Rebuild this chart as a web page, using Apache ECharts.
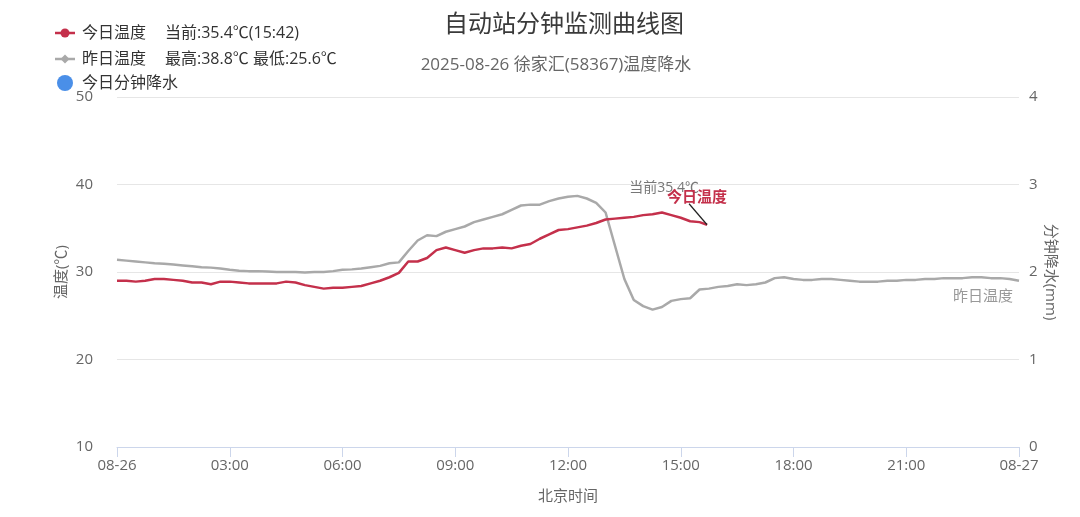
<!DOCTYPE html>
<html>
<head>
<meta charset="utf-8">
<script src="https://cdn.jsdelivr.net/npm/echarts@6/dist/echarts.min.js"></script>
<style>
html,body{margin:0;padding:0;background:#fff;}
#main{width:1080px;height:517px;}
</style>
</head>
<body>
<div id="main"></div>
<script>
// ---------- data ----------
const titleText = '自动站分钟监测曲线图';
const subtitleText = '2025-08-26 徐家汇(58367)温度降水';
const xTickLabels = ['08-26','03:00','06:00','09:00','12:00','15:00','18:00','21:00','08-27'];
const leftTicks = [10, 20, 30, 40, 50];
const rightTicks = [0, 1, 2, 3, 4];
const stepMinutes = 15; // sampling step of the value arrays below (minutes from 00:00)

// 昨日温度 (every 15 min, 00:00 .. 24:00)
const yesterdayTemps = [
  31.4,31.3,31.2,31.1,31.0,30.95,30.85,30.75,30.65,30.55,30.5,30.4,
  30.25,30.15,30.1,30.1,30.05,30.0,30.0,30.0,29.95,30.0,30.0,30.1,
  30.25,30.3,30.4,30.55,30.7,31.0,31.1,32.4,33.6,34.2,34.1,34.6,
  34.9,35.2,35.7,36.0,36.3,36.6,37.1,37.6,37.7,37.7,38.1,38.4,
  38.6,38.7,38.4,37.9,36.8,33.0,29.2,26.8,26.1,25.7,26.0,26.7,
  26.9,27.0,28.0,28.1,28.3,28.4,28.6,28.5,28.6,28.8,29.3,29.4,
  29.2,29.1,29.1,29.2,29.2,29.1,29.0,28.9,28.9,28.9,29.0,29.0,
  29.1,29.1,29.2,29.2,29.3,29.3,29.3,29.4,29.4,29.3,29.3,29.2,29.0
];
// 今日温度 (every 15 min, 00:00 .. 15:30) + current reading
const todayTemps = [
  29.0,29.0,28.9,29.0,29.2,29.2,29.1,29.0,28.8,28.8,28.6,28.9,
  28.9,28.8,28.7,28.7,28.7,28.7,28.9,28.8,28.5,28.3,28.1,28.2,
  28.2,28.3,28.4,28.7,29.0,29.4,29.9,31.2,31.2,31.6,32.5,32.8,
  32.5,32.2,32.5,32.7,32.7,32.8,32.7,33.0,33.2,33.8,34.3,34.8,
  34.9,35.1,35.3,35.6,36.0,36.1,36.2,36.3,36.5,36.6,36.8,36.5,
  36.2,35.8,35.7
];
const currentTime = '15:42';
const currentTemp = 35.4;
const yesterdayMax = 38.8;
const yesterdayMin = 25.6;
// 今日分钟降水 (no rain recorded)
const rainValues = [];

// ---------- chart ----------
const FONT = "'Open Sans','Noto Sans CJK SC',sans-serif";
const RED = '#c4304b';
const GRAY = '#a9a9a9';
const BLUE = '#4a8fe8';

function toMin(t){ const p = t.split(':'); return (+p[0])*60 + (+p[1]); }
const yesterdayData = yesterdayTemps.map((v,i)=>[i*stepMinutes, v]);
const todayData = todayTemps.map((v,i)=>[i*stepMinutes, v]).concat([[toMin(currentTime), currentTemp]]);
const rainData = rainValues.map((v,i)=>[i, v]);

const chart = echarts.init(document.getElementById('main'), null, {renderer:'canvas'});

const legendRows = [
  {y:33, name:'今日温度', extra:'当前:' + currentTemp + '℃(' + currentTime + ')', kind:'line', color:RED, symbol:'circle'},
  {y:59, name:'昨日温度', extra:'最高:' + yesterdayMax + '℃ 最低:' + yesterdayMin + '℃', kind:'line', color:GRAY, symbol:'diamond'},
  {y:83, name:'今日分钟降水', extra:'', kind:'dot', color:BLUE}
];
const legendGraphics = [];
legendRows.forEach(r => {
  if (r.kind === 'line') {
    legendGraphics.push({type:'line', shape:{x1:55,y1:r.y,x2:75,y2:r.y}, style:{stroke:r.color, lineWidth:2.5}, silent:true});
    if (r.symbol === 'circle') {
      legendGraphics.push({type:'circle', shape:{cx:65, cy:r.y, r:4.5}, style:{fill:r.color}, silent:true});
    } else {
      legendGraphics.push({type:'polygon', shape:{points:[[65,r.y-4.5],[69.5,r.y],[65,r.y+4.5],[60.5,r.y]]}, style:{fill:r.color}, silent:true});
    }
  } else {
    legendGraphics.push({type:'circle', shape:{cx:65, cy:r.y, r:8}, style:{fill:r.color}, silent:true});
  }
  legendGraphics.push({type:'text', x:82, y:r.y, style:{text:r.name, fill:'#333', font:'16px ' + FONT, verticalAlign:'middle'}, silent:true});
  if (r.extra) {
    legendGraphics.push({type:'text', x:165, y:r.y, style:{text:r.extra, fill:'#333', font:'16px ' + FONT, verticalAlign:'middle'}, silent:true});
  }
});

const option = {
  animation:false,
  backgroundColor:'#ffffff',
  textStyle:{fontFamily:FONT},
  grid:{left:117, right:61, top:97, bottom:70, containLabel:false},
  graphic:[
    {type:'text', x:564, y:25, style:{text:titleText, fill:'#3a3a3a', font:'24px ' + FONT, align:'center', verticalAlign:'middle'}, silent:true},
    {type:'text', x:556, y:65, style:{text:subtitleText, fill:'#666', font:'17px ' + FONT, align:'center', verticalAlign:'middle'}, silent:true}
  ].concat(legendGraphics),
  xAxis:{
    type:'value', min:0, max:1440, interval:180,
    name:'北京时间', nameLocation:'middle', nameGap:42,
    nameTextStyle:{color:'#666', fontSize:15, fontFamily:FONT},
    axisLine:{show:true, lineStyle:{color:'#ccd6eb', width:1}},
    axisTick:{show:true, length:10, lineStyle:{color:'#ccd6eb'}},
    axisLabel:{color:'#666', fontSize:15, margin:11, fontFamily:FONT,
      formatter:v => xTickLabels[Math.round(v/180)]},
    splitLine:{show:false}
  },
  yAxis:[
    {
      type:'value', min:leftTicks[0], max:leftTicks[leftTicks.length-1], interval:10,
      name:'温度(℃)', nameLocation:'middle', nameGap:48, nameRotate:90, nameMoveOverlap:false,
      nameTextStyle:{color:'#666', fontSize:15, fontFamily:FONT},
      axisLine:{show:false}, axisTick:{show:false},
      axisLabel:{color:'#666', fontSize:15, margin:24, fontFamily:FONT},
      splitLine:{show:true, lineStyle:{color:'#e6e6e6', width:1}}
    },
    {
      type:'value', min:rightTicks[0], max:rightTicks[rightTicks.length-1], interval:1, position:'right',
      name:'分钟降水(mm)', nameLocation:'middle', nameGap:24, nameRotate:-90, nameMoveOverlap:false,
      nameTextStyle:{color:'#666', fontSize:15, fontFamily:FONT},
      axisLine:{show:false}, axisTick:{show:false},
      axisLabel:{color:'#666', fontSize:15, margin:10, fontFamily:FONT},
      splitLine:{show:false}
    }
  ],
  series:[
    {name:'昨日温度', type:'line', data:yesterdayData, showSymbol:false, symbol:'diamond',
      lineStyle:{color:GRAY, width:2.5}, itemStyle:{color:GRAY}, z:2},
    {name:'今日温度', type:'line', data:todayData, showSymbol:false, symbol:'circle',
      lineStyle:{color:RED, width:2.5}, itemStyle:{color:RED}, z:3},
    {name:'今日分钟降水', type:'bar', yAxisIndex:1, data:rainData, itemStyle:{color:BLUE}}
  ]
};
chart.setOption(option);

// annotations anchored at the data points through the axes' scales
const lastToday = todayData[todayData.length-1];
const lastYest = yesterdayData[yesterdayData.length-1];
const pT = chart.convertToPixel({xAxisIndex:0, yAxisIndex:0}, lastToday);
const pY = chart.convertToPixel({xAxisIndex:0, yAxisIndex:0}, lastYest);
const extra = [
  {type:'line', shape:{x1:pT[0], y1:pT[1], x2:pT[0]-18, y2:pT[1]-21}, style:{stroke:'#222', lineWidth:1.2}, silent:true, z:10},
  {type:'text', x:pT[0]-43, y:pT[1]-37, style:{text:'当前' + currentTemp + '℃', fill:'#777', font:'14px ' + FONT, align:'center', verticalAlign:'middle'}, silent:true, z:10},
  {type:'text', x:pT[0]-10, y:pT[1]-27, style:{text:'今日温度', fill:RED, font:'bold 15px ' + FONT, align:'center', verticalAlign:'middle'}, silent:true, z:11},
  {type:'text', x:pY[0]-6, y:pY[1]+16, style:{text:'昨日温度', fill:'#999', font:'15px ' + FONT, align:'right', verticalAlign:'middle'}, silent:true, z:10}
];
chart.setOption({graphic: option.graphic.concat(extra)});
</script>
</body>
</html>
